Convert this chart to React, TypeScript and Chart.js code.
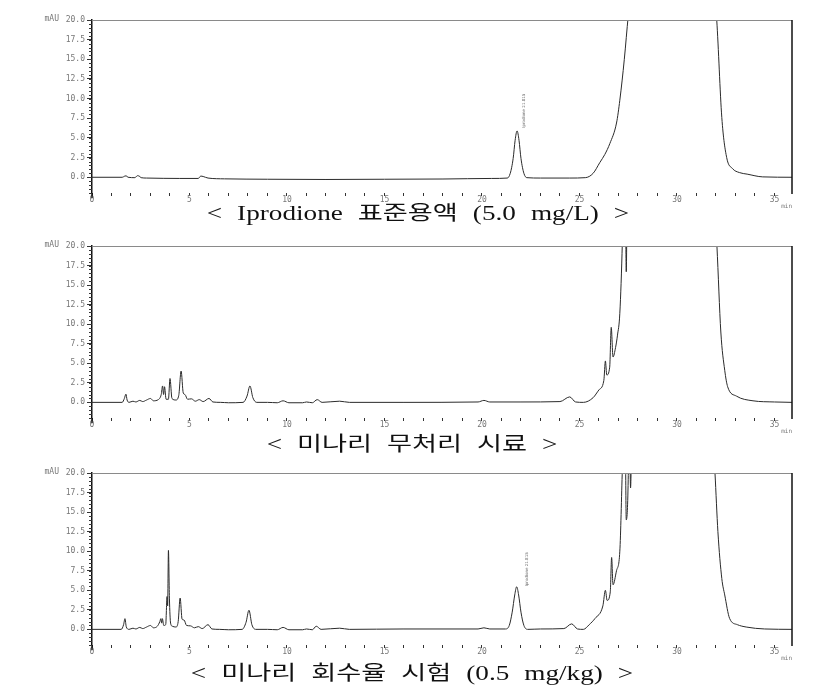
import React, { useEffect, useRef } from "react";
import { Chart, registerables } from "chart.js";

Chart.register(...registerables);

// ---------- data (retention time in min, signal in mAU) ----------
const xTickValues = [0, 1, 2, 3, 4, 5, 6, 7, 8, 9, 10, 11, 12, 13, 14, 15, 16, 17, 18, 19, 20, 21, 22, 23, 24, 25, 26, 27, 28, 29, 30, 31, 32, 33, 34, 35];
const yTickValues = [0, 2.5, 5, 7.5, 10, 12.5, 15, 17.5, 20];

const standardTrace: [number, number][] = [
  [0, 0], [1.55, 0], [1.68, 0.15], [1.75, 0.18], [1.85, 0], [2.2, -0.05], [2.33, 0.2], [2.42, 0.15], [2.52, -0.05], [2.8, -0.1],
  [4.5, -0.15], [5.45, -0.15], [5.58, 0.15], [5.7, 0.1], [5.95, -0.1], [6.8, -0.2], [9, -0.25], [12, -0.28], [15, -0.25], [18, -0.22],
  [20.5, -0.15], [21.3, -0.1], [21.45, 0.5], [21.6, 2.4], [21.7, 4.7], [21.8, 5.9], [21.9, 4.7], [22.0, 2.4], [22.15, 0.5], [22.3, -0.05],
  [23, -0.1], [24.5, -0.1], [25.3, -0.05], [25.7, 0.5], [26.05, 1.9], [26.3, 2.9], [26.56, 4.3], [26.9, 6.9], [27.07, 9.8], [27.3, 15],
  [27.5, 20.5], [28, 32], [29, 55], [30, 65], [31, 50], [31.7, 30], [32.04, 20], [32.3, 7.6], [32.55, 2.5], [32.85, 1.1],
  [33.2, 0.6], [33.6, 0.4], [34.4, 0.05], [35.9, 0],
];

const blankTrace: [number, number][] = [
  [0, 0], [1.55, 0], [1.66, 0.5], [1.74, 1.05], [1.8, 0.3], [1.9, 0], [2.1, 0.15], [2.25, 0.05], [2.45, 0.25], [2.6, 0.1],
  [2.8, 0.3], [3.0, 0.5], [3.15, 0.2], [3.4, 0.35], [3.55, 1.0], [3.62, 2.1], [3.67, 1.0], [3.72, 2.0], [3.8, 0.4], [3.92, 0.4],
  [4.0, 3.05], [4.1, 0.5], [4.3, 0.3], [4.45, 0.9], [4.57, 4.0], [4.68, 1.2], [4.77, 1.0], [4.9, 0.4], [5.1, 0.45], [5.3, 0.15],
  [5.5, 0.35], [5.7, 0.1], [6.0, 0.5], [6.2, 0.05], [6.6, 0], [7.0, -0.05], [7.75, 0], [7.95, 0.8], [8.1, 2.1], [8.25, 0.6],
  [8.45, 0], [9.0, 0], [9.5, -0.05], [9.8, 0.2], [10.1, -0.05], [10.8, -0.05], [11.0, 0.05], [11.3, -0.05], [11.55, 0.35], [11.8, 0],
  [12.7, 0.15], [13.2, 0], [16, 0], [19.8, 0.05], [20.1, 0.25], [20.4, 0.05], [22, 0.05], [24, 0.1], [24.5, 0.7], [24.8, 0.05],
  [25.2, 0], [25.7, 0.6], [26.0, 1.6], [26.25, 2.8], [26.33, 5.3], [26.4, 3.5], [26.55, 4.5], [26.63, 9.6], [26.72, 5.8], [26.85, 7.0],
  [26.95, 8.6], [27.07, 11.4], [27.2, 20.5], [27.33, 35], [27.4, 16.7], [27.48, 40], [28, 60], [30, 75], [31.5, 45], [32.05, 20],
  [32.25, 9], [32.45, 4.1], [32.6, 2.0], [33.05, 0.8], [33.9, 0.2], [35, 0.05], [35.9, 0],
];

const spikedTrace: [number, number][] = [
  [0, 0], [1.5, 0], [1.62, 0.6], [1.69, 1.37], [1.76, 0.3], [1.9, 0], [2.1, 0.15], [2.25, 0.05], [2.45, 0.25], [2.6, 0.1],
  [2.8, 0.3], [3.0, 0.5], [3.15, 0.2], [3.35, 0.4], [3.48, 1.0], [3.53, 1.37], [3.57, 0.8], [3.61, 1.37], [3.68, 0.5], [3.78, 0.6],
  [3.85, 4.2], [3.88, 3.0], [3.92, 10.1], [3.97, 4.0], [4.03, 0.8], [4.12, 0.4], [4.3, 0.3], [4.42, 1.0], [4.52, 4.0], [4.62, 1.3],
  [4.72, 1.2], [4.85, 0.5], [5.05, 0.45], [5.25, 0.2], [5.45, 0.35], [5.65, 0.1], [5.95, 0.6], [6.15, 0.05], [6.55, 0], [7.0, -0.05],
  [7.7, 0], [7.9, 0.9], [8.05, 2.45], [8.2, 0.6], [8.4, 0], [9.0, 0], [9.5, -0.05], [9.8, 0.25], [10.1, -0.05], [10.8, -0.05],
  [11.0, 0.05], [11.3, -0.05], [11.5, 0.4], [11.75, 0], [12.7, 0.15], [13.2, 0], [16, 0.05], [19.8, 0.05], [20.1, 0.2], [20.4, 0.05],
  [21.2, 0.05], [21.4, 0.5], [21.55, 2.2], [21.68, 4.4], [21.78, 5.45], [21.88, 4.4], [22.0, 2.2], [22.15, 0.5], [22.35, 0], [23, 0.05],
  [24.2, 0.1], [24.6, 0.7], [24.9, 0.05], [25.2, 0], [25.5, 0.6], [25.8, 1.4], [26.2, 3.0], [26.33, 5.0], [26.42, 3.7], [26.58, 4.8],
  [26.65, 9.2], [26.72, 5.7], [26.9, 7.5], [27.07, 10.0], [27.2, 20.5], [27.33, 30], [27.4, 14.0], [27.5, 19.2], [27.55, 30], [27.62, 18.1],
  [27.75, 40], [29, 70], [31, 60], [31.95, 20], [32.1, 12.5], [32.3, 6.5], [32.45, 4.4], [32.7, 1.4], [33.1, 0.6], [33.55, 0.3],
  [34.5, 0.05], [35.9, 0],
];

const peakLabelText = "Iprodione 21.815";
const standardPeakLabel: [number, number] = [22.15, 6.3];
const spikedPeakLabel: [number, number] = [22.3, 5.5];

const captions = [
  "< Iprodione 표준용액 (5.0 mg/L) >",
  "< 미나리 무처리 시료 >",
  "< 미나리 회수율 시험 (0.5 mg/kg) >",
];

const Y_MIN = -2;
const Y_MAX = 20;
const X_MIN = 0;
const X_MAX = 35.9;

// ---------- layout ----------
const PAD_TOP = 10;
const X_AXIS_H = 20;
const AXIS_LEFT = 92;
const AXIS_RIGHT = 792;

const framePlugin = {
  id: "chromFrame",
  afterDraw(chart: any, _args: any, opts: any) {
    const { ctx, chartArea } = chart;
    const { left, right, top, bottom } = chartArea;
    const ys = chart.scales.y;
    ctx.save();
    // top border
    ctx.strokeStyle = "#8a8a8a";
    ctx.lineWidth = 1;
    ctx.beginPath();
    ctx.moveTo(left, top + 0.5);
    ctx.lineTo(right, top + 0.5);
    ctx.stroke();
    // right border
    ctx.strokeStyle = "#111";
    ctx.lineWidth = 1.5;
    ctx.beginPath();
    ctx.moveTo(right, top);
    ctx.lineTo(right, bottom + 1);
    ctx.stroke();
    // left axis extension below
    ctx.beginPath();
    ctx.moveTo(left, bottom);
    ctx.lineTo(left, bottom + 5);
    ctx.stroke();
    // minor y ticks
    ctx.strokeStyle = "#333";
    ctx.lineWidth = 1;
    for (let v = Y_MIN; v <= Y_MAX + 1e-9; v += 0.5) {
      const y = Math.round(ys.getPixelForValue(v)) + 0.5;
      ctx.beginPath();
      ctx.moveTo(left - 3, y);
      ctx.lineTo(left, y);
      ctx.stroke();
    }
    // unit labels
    ctx.fillStyle = "#777";
    ctx.font = "8px 'DejaVu Sans Mono'";
    ctx.textAlign = "right";
    ctx.textBaseline = "alphabetic";
    ctx.fillText("mAU", left - 33, top + 1);
    ctx.font = "6px 'DejaVu Sans Mono'";
    ctx.fillText("min", right, bottom + 15);
    // peak label
    if (opts && opts.peak) {
      const px = chart.scales.x.getPixelForValue(opts.peak[0]);
      const py = ys.getPixelForValue(opts.peak[1]);
      ctx.translate(px, py);
      ctx.rotate(-Math.PI / 2);
      ctx.fillStyle = "#666";
      ctx.font = "4px 'DejaVu Sans'";
      ctx.textAlign = "left";
      ctx.textBaseline = "middle";
      ctx.fillText(peakLabelText, 0, 0);
    }
    ctx.restore();
  },
};

type PanelProps = {
  trace: [number, number][];
  top: number;
  bottom: number;
  peak?: [number, number];
};

function Panel({ trace, top, bottom, peak }: PanelProps) {
  const ref = useRef<HTMLCanvasElement>(null);
  const height = bottom - top + PAD_TOP + X_AXIS_H;
  useEffect(() => {
    const chart = new Chart(ref.current as HTMLCanvasElement, {
      type: "line",
      data: {
        datasets: [
          {
            data: trace.map(([x, y]) => ({ x, y })),
            borderColor: "#2a2a2a",
            borderWidth: 1,
            pointRadius: 0,
            fill: false,
            cubicInterpolationMode: "monotone",
          },
        ],
      },
      options: {
        animation: false,
        responsive: false,
        maintainAspectRatio: false,
        layout: { padding: { top: PAD_TOP, right: 831 - AXIS_RIGHT, left: 0, bottom: 0 } },
        plugins: {
          legend: { display: false },
          tooltip: { enabled: false },
          chromFrame: { peak },
        } as any,
        scales: {
          x: {
            type: "linear",
            min: X_MIN,
            max: X_MAX,
            afterFit: (s: any) => {
              s.height = X_AXIS_H;
            },
            afterBuildTicks: (s: any) => {
              s.ticks = xTickValues.map((v) => ({ value: v }));
            },
            ticks: {
              autoSkip: false,
              maxRotation: 0,
              padding: -1,
              color: "#777",
              font: { size: 8, family: "'DejaVu Sans Mono'" },
              callback: (v: any) => (Number(v) % 5 === 0 ? String(v) : ""),
            },
            grid: { drawOnChartArea: false, tickLength: 3, color: "#333" },
            border: { display: false },
          },
          y: {
            type: "linear",
            min: Y_MIN,
            max: Y_MAX,
            afterFit: (s: any) => {
              s.width = AXIS_LEFT;
            },
            afterBuildTicks: (s: any) => {
              s.ticks = yTickValues.map((v) => ({ value: v }));
            },
            ticks: {
              padding: 2,
              color: "#777",
              font: { size: 8, family: "'DejaVu Sans Mono'" },
              callback: (v: any) => Number(v).toFixed(1),
            },
            grid: { drawOnChartArea: false, tickLength: 5, color: "#333" },
            border: { display: true, color: "#111", width: 1.5 },
          },
        },
      } as any,
      plugins: [framePlugin],
    });
    return () => chart.destroy();
  }, []);
  return (
    <canvas
      ref={ref}
      width={831}
      height={height}
      style={{ position: "absolute", left: 0, top: top - PAD_TOP, width: 831, height }}
    />
  );
}

const captionStyle = (center: number, cx: number): React.CSSProperties => ({
  position: "absolute",
  left: cx - 300,
  width: 600,
  top: center - 13,
  height: 26,
  lineHeight: "26px",
  textAlign: "center",
  fontFamily: "'Liberation Serif', 'Noto Sans CJK KR', serif",
  fontSize: 20,
  wordSpacing: 6,
  color: "#111",
  whiteSpace: "pre",
  transform: "scaleX(1.36)",
  transformOrigin: "50% 50%",
});

export default function App() {
  return (
    <div style={{ position: "absolute", left: 0, top: 0, width: 831, height: 699, background: "#fff", overflow: "hidden" }}>
      <Panel trace={standardTrace} top={20} bottom={193} peak={standardPeakLabel} />
      <Panel trace={blankTrace} top={246} bottom={418} />
      <Panel trace={spikedTrace} top={473} bottom={645} peak={spikedPeakLabel} />
      <div style={captionStyle(213, 418)}>{captions[0]}</div>
      <div style={captionStyle(444, 412)}>{captions[1]}</div>
      <div style={captionStyle(673, 412)}>{captions[2]}</div>
    </div>
  );
}
